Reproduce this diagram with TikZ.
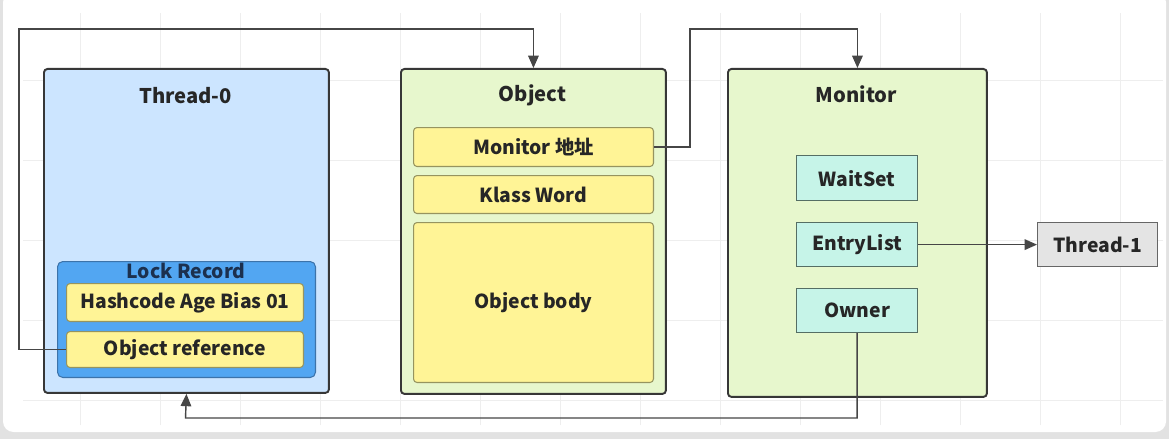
\documentclass[tikz,border=0pt]{standalone}
\usepackage{fontspec}
\setmainfont{Noto Sans CJK SC}
\usetikzlibrary{arrows.meta, positioning, calc}

\definecolor{pagegray}{RGB}{226,226,226}
\definecolor{gridgray}{RGB}{238,238,238}
\definecolor{boxline}{RGB}{55,55,55}
\definecolor{threadblue}{RGB}{204,229,255}
\definecolor{lockblue}{RGB}{82,166,242}
\definecolor{lockline}{RGB}{60,115,170}
\definecolor{locktext}{RGB}{28,48,78}
\definecolor{fieldyellow}{RGB}{255,244,150}
\definecolor{fieldline}{RGB}{150,148,95}
\definecolor{objgreen}{RGB}{231,247,205}
\definecolor{setmint}{RGB}{198,244,232}
\definecolor{setline}{RGB}{85,110,100}
\definecolor{waitgray}{RGB}{228,228,228}
\definecolor{linkgray}{RGB}{70,70,70}

\begin{document}
\begin{tikzpicture}[
		x=0.02cm, y=-0.02cm,
		every node/.style={font=\bfseries\fontsize{11}{13}\selectfont, text=black!85},
		outerbox/.style={draw=boxline, line width=1.1pt, rounded corners=2pt, anchor=north west, inner sep=0pt},
		fieldbox/.style={draw=fieldline, fill=fieldyellow, line width=0.6pt, rounded corners=2pt, anchor=north west, inner sep=0pt, minimum width=4.8cm},
		setbox/.style={draw=setline, fill=setmint, line width=0.7pt, anchor=north west, inner sep=0pt, minimum width=2.42cm, minimum height=0.88cm},
		title/.style={font=\bfseries\fontsize{11.5}{13}\selectfont},
		link/.style={draw=linkgray, line width=0.8pt, -{Triangle[length=7pt, width=6pt]}}
		]
		
		% Page and grid
		\useasboundingbox (0,0) rectangle (1169,439);
		\fill[pagegray] (0,0) rectangle (1169,439);
		\begin{scope}
			\clip (0,0) rectangle (1169,439);
			\fill[white, rounded corners=6pt] (3,-8) rectangle (1166,432);
		\end{scope}
		\draw[gridgray, line width=0.4pt] (23,13) grid[xstep=80, ystep=-80] (1163,425);
		
		% Thread-0
		\node[outerbox, fill=threadblue, minimum width=5.70cm, minimum height=6.48cm] (thread0) at (43,68) {};
		\node[title] (thread0t) at (185.5,96) {Thread-0};
		\node[draw=lockline, fill=lockblue, line width=0.6pt, rounded corners=3pt, anchor=north west, minimum width=5.16cm, minimum height=2.32cm, inner sep=0pt] (lockrec) at (57,261) {};
		\node[text=locktext] (lockrect) at (186,271) {Lock Record};
		\node[fieldbox, minimum width=4.74cm, minimum height=0.76cm] (hashcode) at (66,283) {Hashcode Age Bias 01};
		\node[fieldbox, minimum width=4.74cm, minimum height=0.72cm] (objref) at (66,331) {Object reference};
		
		% Object
		\node[outerbox, fill=objgreen, minimum width=5.30cm, minimum height=6.50cm] (object) at (400,68) {};
		\node[title] (objectt) at (532.5,95) {Object};
		\node[fieldbox, minimum height=0.78cm] (monaddr) at (413,127) {Monitor 地址};
		\node[fieldbox, minimum height=0.76cm] (klass) at (413,175) {Klass Word};
		\node[fieldbox, minimum height=3.20cm] (body) at (413,222) {Object body};
		
		% Monitor
		\node[outerbox, fill=objgreen, minimum width=5.18cm, minimum height=6.56cm] (monitor) at (727,68) {};
		\node[title] (monitort) at (856.5,94) {Monitor};
		\node[setbox, minimum height=0.90cm] (waitset) at (796,155) {WaitSet};
		\node[setbox] (entrylist) at (796,222) {EntryList};
		\node[setbox] (owner) at (796,288) {Owner};
		
		% Thread-1
		\node[draw=black!60, fill=waitgray, line width=0.7pt, anchor=north west, inner sep=0pt, minimum width=2.40cm, minimum height=0.88cm] (thread1) at (1037,222) {Thread-1};
		
		% Links
		\coordinate (refbend) at (19,29);
		\coordinate (addrbend) at (690,29);
		\coordinate (ownerbend) at (185.5,418);
		\draw[link] (objref.west) -| (refbend) -| (object.north);
		\draw[link] (monaddr.east) -| (addrbend) -| (monitor.north);
		\draw[link] (owner.south) |- (ownerbend) -- (thread0.south);
		\draw[link] (entrylist.east) -- (thread1.west);
		
	\end{tikzpicture}
\end{document}
